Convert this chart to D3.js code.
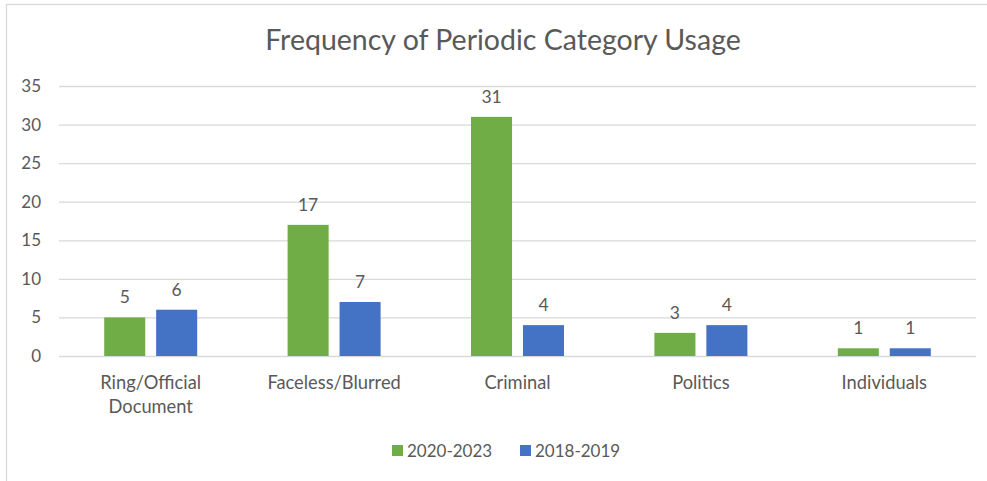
<!DOCTYPE html>
<html>
<head>
<meta charset="utf-8">
<script src="https://cdn.jsdelivr.net/npm/d3@7"></script>
<style>
  body { margin: 0; background: #fff; }
  text { font-family: Lato, "Open Sans", sans-serif; fill: #595959; }
</style>
</head>
<body>
<svg id="chart" width="987" height="481"></svg>
<script>
// chart data
const categories = ["Ring/Official Document", "Faceless/Blurred", "Criminal", "Politics", "Individuals"];
const seriesNames = ["2020-2023", "2018-2019"];
const recent = [5, 17, 31, 3, 1];
const earlier = [6, 7, 4, 4, 1];
const yTicks = [0, 5, 10, 15, 20, 25, 30, 35];
const colors = ["#70AD47", "#4472C4"];

const svg = d3.select('#chart');

// outer frame of the chart
svg.append('rect')
    .attr('x', 6.5).attr('y', 4.5)
    .attr('width', 1000).attr('height', 500)
    .attr('fill', 'none')
    .attr('stroke', '#d9d9d9')
    .attr('stroke-width', 1.3);

const plotLeft = 59, plotRight = 976, plotTop = 86, plotBottom = 356;

let x0 = d3.scaleBand().domain(categories).range([plotLeft, plotRight]);
let x1 = d3.scaleBand().domain(seriesNames).range([-46.5, 46.5]).paddingInner(0.21);
let y = d3.scaleLinear().domain([0, 35]).range([plotBottom, plotTop]);

svg.append('text')
    .attr('x', 503).attr('y', 50)
    .attr('text-anchor', 'middle')
    .style('font-size', '28.5px')
    .text("Frequency of Periodic Category Usage");

// gridlines + y labels
let yAxis = svg.append('g')
    .attr('transform', `translate(${plotLeft},0)`)
    .call(d3.axisLeft(y).tickValues(yTicks).tickSize(-(plotRight - plotLeft)).tickPadding(18));
yAxis.select('.domain').remove();
yAxis.selectAll('line').attr('stroke', '#d9d9d9').attr('stroke-width', 1.3);
yAxis.selectAll('text').style('font-size', '17px').attr('fill', '#595959');

// rows: one per category
let rows = categories.map((c, i) => ({cat: c, vals: [recent[i], earlier[i]]}));

let groups = svg.append('g').selectAll('g')
    .data(rows)
    .join('g')
    .attr('transform', d => `translate(${x0(d.cat) + x0.bandwidth() / 2},0)`);

groups.selectAll('rect')
    .data(d => d.vals.map((v, j) => ({name: seriesNames[j], v: v, j: j})))
    .join('rect')
    .attr('x', d => x1(d.name))
    .attr('width', x1.bandwidth())
    .attr('y', d => y(d.v))
    .attr('height', d => plotBottom - y(d.v))
    .attr('fill', d => colors[d.j]);

groups.selectAll('text.val')
    .data(d => d.vals.map((v, j) => ({name: seriesNames[j], v: v})))
    .join('text')
    .attr('class', 'val')
    .attr('x', d => x1(d.name) + x1.bandwidth() / 2)
    .attr('y', d => y(d.v) - 14)
    .attr('text-anchor', 'middle')
    .style('font-size', '17.5px')
    .text(d => d.v);

// category labels (wrap the long one in two lines)
groups.append('text')
    .attr('text-anchor', 'middle')
    .attr('y', 389)
    .style('font-size', '18.3px')
    .each(function(d) {
        let words = d.cat.split(' ');
        d3.select(this).selectAll('tspan')
            .data(words)
            .join('tspan')
            .attr('x', 0)
            .attr('dy', (w, k) => k == 0 ? 0 : 23.5)
            .text(w => w);
    });

// legend
let legend = svg.append('g').selectAll('g')
    .data(seriesNames)
    .join('g')
    .attr('transform', (d, i) => `translate(${392 + i * 128},445)`);
legend.append('rect')
    .attr('width', 11).attr('height', 11)
    .attr('fill', (d, i) => colors[i]);
legend.append('text')
    .attr('x', 15).attr('y', 11.5)
    .style('font-size', '17px')
    .text(d => d);
</script>
</body>
</html>
